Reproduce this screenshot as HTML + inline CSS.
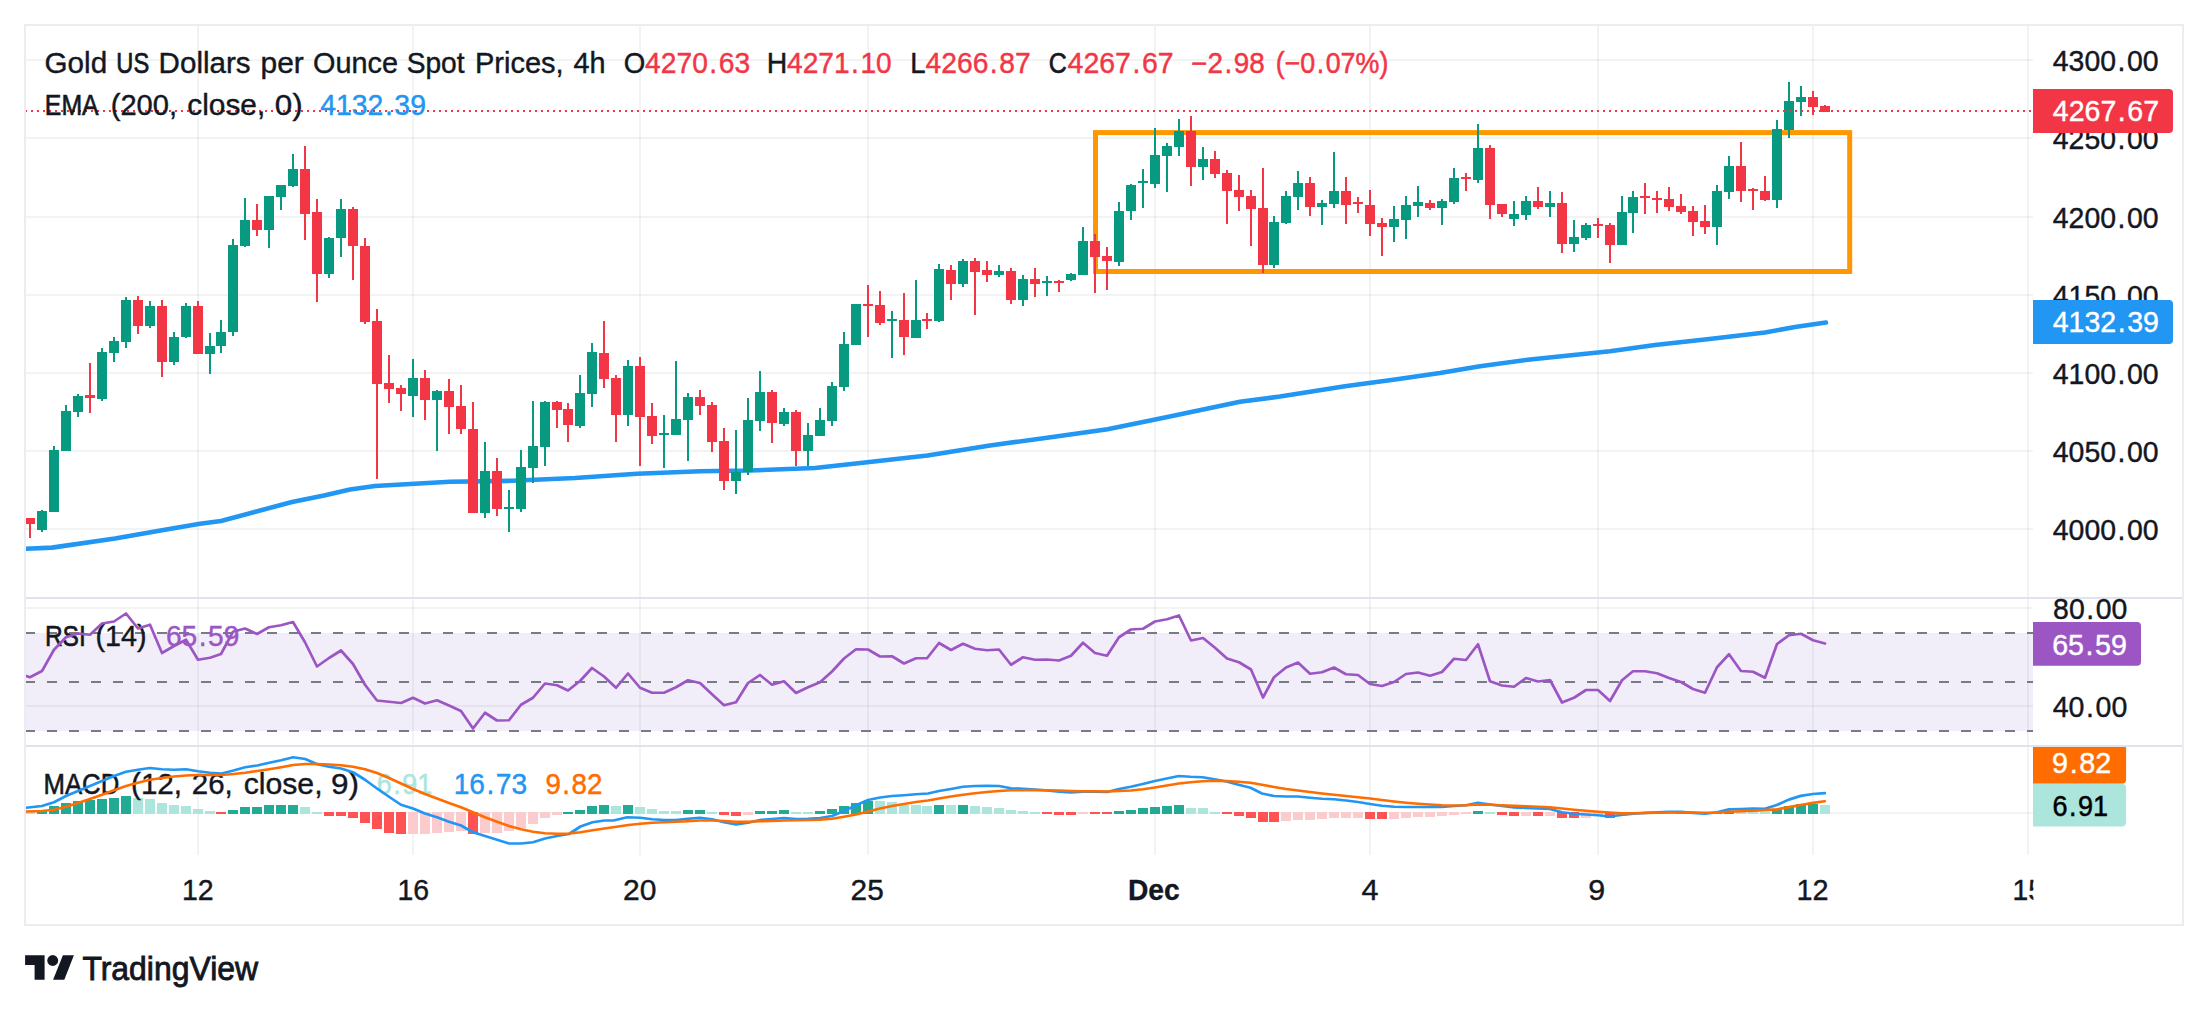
<!DOCTYPE html>
<html><head><meta charset="utf-8"><title>Gold chart</title>
<style>html,body{margin:0;padding:0;background:#fff;overflow:hidden;font-family:"Liberation Sans",sans-serif}svg{display:block}</style></head>
<body>
<svg width="2208" height="1013" viewBox="0 0 2208 1013" font-family="'Liberation Sans', sans-serif">
<defs>
<clipPath id="plot"><rect x="26" y="26" width="2007" height="830"/></clipPath>
<clipPath id="tclip"><rect x="0" y="860" width="2033.4" height="60"/></clipPath>
<clipPath id="lclip"><rect x="2000" y="747" width="200" height="100"/></clipPath>
</defs>
<rect width="2208" height="1013" fill="#fff"/>
<g fill="rgba(42,46,57,0.06)" shape-rendering="crispEdges">
<rect x="197" y="26" width="2" height="828.5"/>
<rect x="412" y="26" width="2" height="828.5"/>
<rect x="639" y="26" width="2" height="828.5"/>
<rect x="867" y="26" width="2" height="828.5"/>
<rect x="1154" y="26" width="2" height="828.5"/>
<rect x="1369" y="26" width="2" height="828.5"/>
<rect x="1597" y="26" width="2" height="828.5"/>
<rect x="1812" y="26" width="2" height="828.5"/>
<rect x="2027" y="26" width="2" height="828.5"/>
<rect x="26" y="59" width="2007" height="2"/>
<rect x="26" y="137" width="2007" height="2"/>
<rect x="26" y="216" width="2007" height="2"/>
<rect x="26" y="294" width="2007" height="2"/>
<rect x="26" y="372" width="2007" height="2"/>
<rect x="26" y="450" width="2007" height="2"/>
<rect x="26" y="528" width="2007" height="2"/>
<rect x="26" y="607" width="2007" height="2"/>
<rect x="26" y="705" width="2007" height="2"/>
<rect x="26" y="812" width="2007" height="2"/>
</g>
<rect x="26" y="633" width="2007" height="98" fill="rgba(126,87,194,0.1)" shape-rendering="crispEdges"/>
<g stroke="#787b86" stroke-width="2" stroke-dasharray="10 12" shape-rendering="crispEdges" clip-path="url(#plot)">
<line x1="25" y1="633" x2="2033" y2="633"/>
<line x1="25" y1="682" x2="2033" y2="682"/>
<line x1="25" y1="731" x2="2033" y2="731"/>
</g>
<g fill="#e0e3eb" shape-rendering="crispEdges"><rect x="26" y="597" width="2156" height="2"/><rect x="26" y="745" width="2156" height="2"/></g>
<rect x="25" y="25" width="2158" height="900" fill="none" stroke="#ecedf2" stroke-width="2" shape-rendering="crispEdges"/>
<g clip-path="url(#plot)">
<rect x="1095.5" y="132.6" width="754.2" height="138.9" fill="none" stroke="#ff9800" stroke-width="5"/>
<polyline points="25.0,548.8 52.0,547.6 115.0,538.5 162.0,530.2 200.0,523.8 221.0,521.0 292.0,502.0 324.0,495.5 350.0,489.5 375.0,486.0 450.0,481.8 512.0,480.8 575.0,478.0 637.0,473.8 700.0,471.2 750.0,470.5 815.0,468.0 865.0,462.5 927.5,455.5 990.0,445.5 1052.5,437.0 1107.5,429.2 1165.0,417.5 1240.0,401.8 1280.0,396.5 1345.0,386.2 1395.0,379.5 1440.0,373.0 1480.0,366.2 1530.0,359.5 1610.0,351.2 1655.0,345.0 1705.0,339.5 1765.0,332.5 1795.0,327.0 1826.0,322.5" fill="none" stroke="#2196f3" stroke-width="4.6" stroke-linejoin="round" stroke-linecap="round"/>
<g fill="#089981" shape-rendering="crispEdges"><rect x="41" y="510" width="2" height="22"/><rect x="37" y="511" width="10" height="19"/><rect x="53" y="446" width="2" height="66"/><rect x="49" y="450" width="10" height="62"/><rect x="65" y="405" width="2" height="46"/><rect x="61" y="411" width="10" height="40"/><rect x="77" y="394" width="2" height="23"/><rect x="73" y="396" width="10" height="16"/><rect x="101" y="348" width="2" height="53"/><rect x="97" y="352" width="10" height="47"/><rect x="113" y="337" width="2" height="25"/><rect x="109" y="341" width="10" height="12"/><rect x="125" y="297" width="2" height="51"/><rect x="121" y="300" width="10" height="42"/><rect x="149" y="301" width="2" height="27"/><rect x="145" y="306" width="10" height="20"/><rect x="173" y="332" width="2" height="33"/><rect x="169" y="337" width="10" height="25"/><rect x="185" y="303" width="2" height="35"/><rect x="181" y="306" width="10" height="31"/><rect x="209" y="333" width="2" height="41"/><rect x="205" y="346" width="10" height="8"/><rect x="220" y="320" width="2" height="33"/><rect x="216" y="332" width="10" height="14"/><rect x="232" y="239" width="2" height="97"/><rect x="228" y="245" width="10" height="87"/><rect x="244" y="198" width="2" height="49"/><rect x="240" y="220" width="10" height="26"/><rect x="268" y="196" width="2" height="52"/><rect x="264" y="196" width="10" height="34"/><rect x="280" y="185" width="2" height="25"/><rect x="276" y="185" width="10" height="12"/><rect x="292" y="154" width="2" height="33"/><rect x="288" y="169" width="10" height="17"/><rect x="328" y="237" width="2" height="41"/><rect x="324" y="238" width="10" height="36"/><rect x="340" y="199" width="2" height="58"/><rect x="336" y="209" width="10" height="29"/><rect x="412" y="359" width="2" height="58"/><rect x="408" y="378" width="10" height="18"/><rect x="436" y="390" width="2" height="61"/><rect x="432" y="391" width="10" height="9"/><rect x="484" y="442" width="2" height="76"/><rect x="480" y="471" width="10" height="42"/><rect x="508" y="490" width="2" height="42"/><rect x="504" y="507" width="10" height="2"/><rect x="520" y="450" width="2" height="62"/><rect x="516" y="467" width="10" height="42"/><rect x="532" y="401" width="2" height="82"/><rect x="528" y="446" width="10" height="22"/><rect x="544" y="401" width="2" height="65"/><rect x="540" y="402" width="10" height="45"/><rect x="579" y="375" width="2" height="53"/><rect x="575" y="393" width="10" height="33"/><rect x="591" y="343" width="2" height="64"/><rect x="587" y="352" width="10" height="42"/><rect x="627" y="360" width="2" height="66"/><rect x="623" y="366" width="10" height="49"/><rect x="663" y="415" width="2" height="53"/><rect x="659" y="433" width="10" height="2"/><rect x="675" y="361" width="2" height="74"/><rect x="671" y="419" width="10" height="16"/><rect x="687" y="393" width="2" height="68"/><rect x="683" y="397" width="10" height="23"/><rect x="735" y="430" width="2" height="64"/><rect x="731" y="472" width="10" height="9"/><rect x="747" y="398" width="2" height="77"/><rect x="743" y="420" width="10" height="52"/><rect x="759" y="371" width="2" height="60"/><rect x="755" y="392" width="10" height="29"/><rect x="783" y="408" width="2" height="18"/><rect x="779" y="412" width="10" height="12"/><rect x="807" y="423" width="2" height="43"/><rect x="803" y="435" width="10" height="16"/><rect x="819" y="408" width="2" height="28"/><rect x="815" y="420" width="10" height="16"/><rect x="831" y="382" width="2" height="44"/><rect x="827" y="386" width="10" height="35"/><rect x="843" y="332" width="2" height="59"/><rect x="839" y="344" width="10" height="43"/><rect x="851" y="304" width="10" height="41"/><rect x="891" y="311" width="2" height="47"/><rect x="887" y="319" width="10" height="2"/><rect x="915" y="280" width="2" height="58"/><rect x="911" y="320" width="10" height="18"/><rect x="938" y="264" width="2" height="58"/><rect x="934" y="269" width="10" height="52"/><rect x="962" y="259" width="2" height="28"/><rect x="958" y="261" width="10" height="23"/><rect x="998" y="265" width="2" height="12"/><rect x="994" y="271" width="10" height="4"/><rect x="1022" y="275" width="2" height="31"/><rect x="1018" y="279" width="10" height="21"/><rect x="1046" y="276" width="2" height="20"/><rect x="1042" y="281" width="10" height="2"/><rect x="1070" y="273" width="2" height="8"/><rect x="1066" y="274" width="10" height="6"/><rect x="1082" y="227" width="2" height="48"/><rect x="1078" y="241" width="10" height="34"/><rect x="1118" y="202" width="2" height="64"/><rect x="1114" y="211" width="10" height="51"/><rect x="1130" y="184" width="2" height="36"/><rect x="1126" y="185" width="10" height="26"/><rect x="1142" y="169" width="2" height="39"/><rect x="1138" y="181" width="10" height="2"/><rect x="1154" y="128" width="2" height="60"/><rect x="1150" y="155" width="10" height="29"/><rect x="1166" y="143" width="2" height="49"/><rect x="1162" y="146" width="10" height="10"/><rect x="1178" y="119" width="2" height="37"/><rect x="1174" y="131" width="10" height="16"/><rect x="1202" y="147" width="2" height="33"/><rect x="1198" y="159" width="10" height="8"/><rect x="1273" y="216" width="2" height="52"/><rect x="1269" y="222" width="10" height="43"/><rect x="1285" y="191" width="2" height="33"/><rect x="1281" y="196" width="10" height="27"/><rect x="1297" y="171" width="2" height="39"/><rect x="1293" y="183" width="10" height="14"/><rect x="1321" y="200" width="2" height="25"/><rect x="1317" y="203" width="10" height="4"/><rect x="1333" y="152" width="2" height="56"/><rect x="1329" y="191" width="10" height="13"/><rect x="1393" y="206" width="2" height="36"/><rect x="1389" y="219" width="10" height="8"/><rect x="1405" y="196" width="2" height="43"/><rect x="1401" y="205" width="10" height="15"/><rect x="1417" y="186" width="2" height="31"/><rect x="1413" y="202" width="10" height="4"/><rect x="1441" y="199" width="2" height="26"/><rect x="1437" y="201" width="10" height="7"/><rect x="1453" y="168" width="2" height="36"/><rect x="1449" y="178" width="10" height="24"/><rect x="1477" y="124" width="2" height="59"/><rect x="1473" y="148" width="10" height="32"/><rect x="1513" y="201" width="2" height="25"/><rect x="1509" y="214" width="10" height="5"/><rect x="1525" y="196" width="2" height="24"/><rect x="1521" y="201" width="10" height="14"/><rect x="1549" y="191" width="2" height="26"/><rect x="1545" y="203" width="10" height="4"/><rect x="1573" y="220" width="2" height="32"/><rect x="1569" y="237" width="10" height="7"/><rect x="1585" y="223" width="2" height="17"/><rect x="1581" y="225" width="10" height="13"/><rect x="1621" y="196" width="2" height="49"/><rect x="1617" y="212" width="10" height="33"/><rect x="1632" y="191" width="2" height="42"/><rect x="1628" y="197" width="10" height="16"/><rect x="1716" y="185" width="2" height="60"/><rect x="1712" y="191" width="10" height="36"/><rect x="1728" y="156" width="2" height="43"/><rect x="1724" y="166" width="10" height="26"/><rect x="1776" y="120" width="2" height="88"/><rect x="1772" y="129" width="10" height="71"/><rect x="1788" y="82" width="2" height="56"/><rect x="1784" y="101" width="10" height="29"/><rect x="1800" y="86" width="2" height="30"/><rect x="1796" y="97" width="10" height="5"/></g>
<g fill="#f23645" shape-rendering="crispEdges"><rect x="29" y="518" width="2" height="20"/><rect x="25" y="518" width="10" height="6"/><rect x="89" y="363" width="2" height="50"/><rect x="85" y="395" width="10" height="3"/><rect x="137" y="296" width="2" height="38"/><rect x="133" y="300" width="10" height="26"/><rect x="161" y="300" width="2" height="77"/><rect x="157" y="306" width="10" height="56"/><rect x="197" y="301" width="2" height="53"/><rect x="193" y="306" width="10" height="48"/><rect x="256" y="204" width="2" height="32"/><rect x="252" y="220" width="10" height="10"/><rect x="304" y="146" width="2" height="94"/><rect x="300" y="169" width="10" height="45"/><rect x="316" y="199" width="2" height="103"/><rect x="312" y="212" width="10" height="62"/><rect x="352" y="207" width="2" height="73"/><rect x="348" y="209" width="10" height="37"/><rect x="364" y="238" width="2" height="86"/><rect x="360" y="246" width="10" height="76"/><rect x="376" y="309" width="2" height="170"/><rect x="372" y="321" width="10" height="63"/><rect x="388" y="355" width="2" height="48"/><rect x="384" y="383" width="10" height="6"/><rect x="400" y="385" width="2" height="26"/><rect x="396" y="388" width="10" height="6"/><rect x="424" y="370" width="2" height="50"/><rect x="420" y="378" width="10" height="22"/><rect x="448" y="379" width="2" height="55"/><rect x="444" y="391" width="10" height="16"/><rect x="460" y="385" width="2" height="49"/><rect x="456" y="406" width="10" height="23"/><rect x="472" y="402" width="2" height="111"/><rect x="468" y="429" width="10" height="84"/><rect x="496" y="458" width="2" height="58"/><rect x="492" y="471" width="10" height="38"/><rect x="556" y="401" width="2" height="27"/><rect x="552" y="402" width="10" height="8"/><rect x="567" y="403" width="2" height="39"/><rect x="563" y="409" width="10" height="16"/><rect x="603" y="321" width="2" height="67"/><rect x="599" y="353" width="10" height="26"/><rect x="615" y="375" width="2" height="67"/><rect x="611" y="378" width="10" height="37"/><rect x="639" y="357" width="2" height="109"/><rect x="635" y="366" width="10" height="51"/><rect x="651" y="403" width="2" height="41"/><rect x="647" y="416" width="10" height="20"/><rect x="699" y="390" width="2" height="25"/><rect x="695" y="397" width="10" height="9"/><rect x="711" y="402" width="2" height="50"/><rect x="707" y="405" width="10" height="37"/><rect x="723" y="428" width="2" height="62"/><rect x="719" y="441" width="10" height="40"/><rect x="771" y="390" width="2" height="53"/><rect x="767" y="392" width="10" height="31"/><rect x="795" y="410" width="2" height="56"/><rect x="791" y="412" width="10" height="39"/><rect x="867" y="285" width="2" height="52"/><rect x="863" y="304" width="10" height="2"/><rect x="879" y="291" width="2" height="34"/><rect x="875" y="305" width="10" height="18"/><rect x="903" y="293" width="2" height="62"/><rect x="899" y="320" width="10" height="17"/><rect x="926" y="313" width="2" height="16"/><rect x="922" y="319" width="10" height="2"/><rect x="950" y="265" width="2" height="35"/><rect x="946" y="270" width="10" height="14"/><rect x="974" y="258" width="2" height="57"/><rect x="970" y="261" width="10" height="11"/><rect x="986" y="261" width="2" height="21"/><rect x="982" y="270" width="10" height="5"/><rect x="1010" y="268" width="2" height="36"/><rect x="1006" y="271" width="10" height="29"/><rect x="1034" y="268" width="2" height="29"/><rect x="1030" y="279" width="10" height="5"/><rect x="1058" y="280" width="2" height="12"/><rect x="1054" y="281" width="10" height="2"/><rect x="1094" y="234" width="2" height="59"/><rect x="1090" y="241" width="10" height="16"/><rect x="1106" y="247" width="2" height="43"/><rect x="1102" y="256" width="10" height="5"/><rect x="1190" y="116" width="2" height="70"/><rect x="1186" y="131" width="10" height="36"/><rect x="1214" y="151" width="2" height="27"/><rect x="1210" y="159" width="10" height="15"/><rect x="1226" y="170" width="2" height="54"/><rect x="1222" y="173" width="10" height="18"/><rect x="1238" y="175" width="2" height="36"/><rect x="1234" y="190" width="10" height="7"/><rect x="1250" y="190" width="2" height="56"/><rect x="1246" y="196" width="10" height="13"/><rect x="1262" y="168" width="2" height="105"/><rect x="1258" y="208" width="10" height="57"/><rect x="1309" y="177" width="2" height="39"/><rect x="1305" y="183" width="10" height="24"/><rect x="1345" y="177" width="2" height="47"/><rect x="1341" y="191" width="10" height="14"/><rect x="1357" y="197" width="2" height="16"/><rect x="1353" y="202" width="10" height="2"/><rect x="1369" y="190" width="2" height="46"/><rect x="1365" y="205" width="10" height="19"/><rect x="1381" y="218" width="2" height="38"/><rect x="1377" y="223" width="10" height="4"/><rect x="1429" y="200" width="2" height="10"/><rect x="1425" y="203" width="10" height="5"/><rect x="1465" y="173" width="2" height="18"/><rect x="1461" y="177" width="10" height="2"/><rect x="1489" y="145" width="2" height="74"/><rect x="1485" y="148" width="10" height="57"/><rect x="1501" y="204" width="2" height="13"/><rect x="1497" y="204" width="10" height="10"/><rect x="1537" y="187" width="2" height="22"/><rect x="1533" y="201" width="10" height="6"/><rect x="1561" y="192" width="2" height="61"/><rect x="1557" y="203" width="10" height="41"/><rect x="1597" y="218" width="2" height="20"/><rect x="1593" y="224" width="10" height="2"/><rect x="1609" y="223" width="2" height="40"/><rect x="1605" y="225" width="10" height="20"/><rect x="1644" y="183" width="2" height="31"/><rect x="1640" y="196" width="10" height="2"/><rect x="1656" y="191" width="2" height="22"/><rect x="1652" y="198" width="10" height="2"/><rect x="1668" y="187" width="2" height="24"/><rect x="1664" y="199" width="10" height="8"/><rect x="1680" y="194" width="2" height="20"/><rect x="1676" y="206" width="10" height="6"/><rect x="1692" y="206" width="2" height="30"/><rect x="1688" y="211" width="10" height="11"/><rect x="1704" y="205" width="2" height="29"/><rect x="1700" y="221" width="10" height="6"/><rect x="1740" y="142" width="2" height="60"/><rect x="1736" y="166" width="10" height="25"/><rect x="1752" y="188" width="2" height="22"/><rect x="1748" y="189" width="10" height="2"/><rect x="1764" y="176" width="2" height="25"/><rect x="1760" y="191" width="10" height="9"/><rect x="1812" y="91" width="2" height="24"/><rect x="1808" y="97" width="10" height="10"/><rect x="1824" y="105" width="2" height="7"/><rect x="1820" y="106" width="10" height="6"/></g>
<line x1="25" y1="111" x2="2033" y2="111" stroke="#f23645" stroke-width="2" stroke-dasharray="2 4" shape-rendering="crispEdges"/>
<g fill="#22ab94" shape-rendering="crispEdges"><rect x="37" y="811" width="10" height="3"/><rect x="49" y="806" width="10" height="8"/><rect x="61" y="803" width="10" height="11"/><rect x="73" y="801" width="10" height="13"/><rect x="85" y="800" width="10" height="14"/><rect x="97" y="799" width="10" height="15"/><rect x="109" y="798" width="10" height="16"/><rect x="121" y="796" width="10" height="18"/><rect x="228" y="810" width="10" height="4"/><rect x="240" y="807" width="10" height="7"/><rect x="252" y="807" width="10" height="7"/><rect x="264" y="805" width="10" height="9"/><rect x="276" y="805" width="10" height="9"/><rect x="288" y="805" width="10" height="9"/><rect x="563" y="812" width="10" height="2"/><rect x="575" y="810" width="10" height="4"/><rect x="587" y="806" width="10" height="8"/><rect x="599" y="805" width="10" height="9"/><rect x="623" y="805" width="10" height="9"/><rect x="683" y="810" width="10" height="4"/><rect x="695" y="810" width="10" height="4"/><rect x="755" y="811" width="10" height="3"/><rect x="767" y="811" width="10" height="3"/><rect x="779" y="810" width="10" height="4"/><rect x="815" y="811" width="10" height="3"/><rect x="827" y="809" width="10" height="5"/><rect x="839" y="806" width="10" height="8"/><rect x="851" y="803" width="10" height="11"/><rect x="863" y="801" width="10" height="13"/><rect x="934" y="805" width="10" height="9"/><rect x="958" y="805" width="10" height="9"/><rect x="1114" y="811" width="10" height="3"/><rect x="1126" y="810" width="10" height="4"/><rect x="1138" y="808" width="10" height="6"/><rect x="1150" y="807" width="10" height="7"/><rect x="1162" y="806" width="10" height="8"/><rect x="1174" y="805" width="10" height="9"/><rect x="1473" y="811" width="10" height="3"/><rect x="1640" y="812" width="10" height="2"/><rect x="1652" y="812" width="10" height="2"/><rect x="1712" y="812" width="10" height="2"/><rect x="1724" y="811" width="10" height="3"/><rect x="1772" y="809" width="10" height="5"/><rect x="1784" y="806" width="10" height="8"/><rect x="1796" y="804" width="10" height="10"/><rect x="1808" y="804" width="10" height="10"/></g>
<g fill="#ace5dc" shape-rendering="crispEdges"><rect x="25" y="812" width="10" height="2"/><rect x="133" y="798" width="10" height="16"/><rect x="145" y="799" width="10" height="15"/><rect x="157" y="803" width="10" height="11"/><rect x="169" y="805" width="10" height="9"/><rect x="181" y="806" width="10" height="8"/><rect x="193" y="809" width="10" height="5"/><rect x="205" y="811" width="10" height="3"/><rect x="300" y="807" width="10" height="7"/><rect x="312" y="812" width="10" height="2"/><rect x="611" y="806" width="10" height="8"/><rect x="635" y="807" width="10" height="7"/><rect x="647" y="809" width="10" height="5"/><rect x="659" y="811" width="10" height="3"/><rect x="671" y="811" width="10" height="3"/><rect x="707" y="812" width="10" height="2"/><rect x="791" y="812" width="10" height="2"/><rect x="803" y="812" width="10" height="2"/><rect x="875" y="801" width="10" height="13"/><rect x="887" y="802" width="10" height="12"/><rect x="899" y="805" width="10" height="9"/><rect x="911" y="805" width="10" height="9"/><rect x="922" y="806" width="10" height="8"/><rect x="946" y="805" width="10" height="9"/><rect x="970" y="806" width="10" height="8"/><rect x="982" y="807" width="10" height="7"/><rect x="994" y="808" width="10" height="6"/><rect x="1006" y="810" width="10" height="4"/><rect x="1018" y="811" width="10" height="3"/><rect x="1030" y="812" width="10" height="2"/><rect x="1186" y="808" width="10" height="6"/><rect x="1198" y="808" width="10" height="6"/><rect x="1210" y="812" width="10" height="2"/><rect x="1485" y="812" width="10" height="2"/><rect x="1664" y="812" width="10" height="2"/><rect x="1736" y="811" width="10" height="3"/><rect x="1748" y="812" width="10" height="2"/><rect x="1760" y="812" width="10" height="2"/><rect x="1820" y="805" width="10" height="9"/></g>
<g fill="#ff5252" shape-rendering="crispEdges"><rect x="216" y="812" width="10" height="2"/><rect x="324" y="812" width="10" height="4"/><rect x="336" y="812" width="10" height="4"/><rect x="348" y="812" width="10" height="6"/><rect x="360" y="812" width="10" height="11"/><rect x="372" y="812" width="10" height="17"/><rect x="384" y="812" width="10" height="21"/><rect x="396" y="812" width="10" height="22"/><rect x="468" y="812" width="10" height="22"/><rect x="719" y="812" width="10" height="3"/><rect x="731" y="812" width="10" height="4"/><rect x="1042" y="812" width="10" height="2"/><rect x="1054" y="812" width="10" height="3"/><rect x="1066" y="812" width="10" height="3"/><rect x="1090" y="812" width="10" height="2"/><rect x="1102" y="812" width="10" height="2"/><rect x="1222" y="812" width="10" height="2"/><rect x="1234" y="812" width="10" height="4"/><rect x="1246" y="812" width="10" height="6"/><rect x="1258" y="812" width="10" height="10"/><rect x="1269" y="812" width="10" height="10"/><rect x="1365" y="812" width="10" height="7"/><rect x="1377" y="812" width="10" height="7"/><rect x="1497" y="812" width="10" height="3"/><rect x="1509" y="812" width="10" height="4"/><rect x="1533" y="812" width="10" height="4"/><rect x="1557" y="812" width="10" height="6"/><rect x="1569" y="812" width="10" height="6"/><rect x="1605" y="812" width="10" height="6"/><rect x="1676" y="812" width="10" height="2"/><rect x="1688" y="812" width="10" height="2"/><rect x="1700" y="812" width="10" height="2"/></g>
<g fill="#fccbcd" shape-rendering="crispEdges"><rect x="408" y="812" width="10" height="22"/><rect x="420" y="812" width="10" height="22"/><rect x="432" y="812" width="10" height="21"/><rect x="444" y="812" width="10" height="20"/><rect x="456" y="812" width="10" height="19"/><rect x="480" y="812" width="10" height="21"/><rect x="492" y="812" width="10" height="21"/><rect x="504" y="812" width="10" height="19"/><rect x="516" y="812" width="10" height="16"/><rect x="528" y="812" width="10" height="12"/><rect x="540" y="812" width="10" height="6"/><rect x="552" y="812" width="10" height="3"/><rect x="743" y="812" width="10" height="3"/><rect x="1078" y="812" width="10" height="2"/><rect x="1281" y="812" width="10" height="9"/><rect x="1293" y="812" width="10" height="8"/><rect x="1305" y="812" width="10" height="8"/><rect x="1317" y="812" width="10" height="7"/><rect x="1329" y="812" width="10" height="6"/><rect x="1341" y="812" width="10" height="6"/><rect x="1353" y="812" width="10" height="6"/><rect x="1389" y="812" width="10" height="7"/><rect x="1401" y="812" width="10" height="6"/><rect x="1413" y="812" width="10" height="5"/><rect x="1425" y="812" width="10" height="5"/><rect x="1437" y="812" width="10" height="4"/><rect x="1449" y="812" width="10" height="3"/><rect x="1461" y="812" width="10" height="2"/><rect x="1521" y="812" width="10" height="4"/><rect x="1545" y="812" width="10" height="4"/><rect x="1581" y="812" width="10" height="6"/><rect x="1593" y="812" width="10" height="4"/><rect x="1617" y="812" width="10" height="3"/><rect x="1628" y="812" width="10" height="2"/></g>
</g>
<text transform="translate(44.51 72.50) scale(1.0371 1)" font-size="28.6" fill="#131722" stroke="#131722" stroke-width="0.40" vector-effect="non-scaling-stroke">Gold</text>
<text transform="translate(116.32 72.50) scale(0.8274 1)" font-size="28.6" fill="#131722" stroke="#131722" stroke-width="0.66" vector-effect="non-scaling-stroke">US</text>
<text transform="translate(158.59 72.50) scale(1.0341 1)" font-size="28.6" fill="#131722" stroke="#131722" stroke-width="0.40" vector-effect="non-scaling-stroke">Dollars</text>
<text transform="translate(260.53 72.50) scale(1.0455 1)" font-size="28.6" fill="#131722" stroke="#131722" stroke-width="0.40" vector-effect="non-scaling-stroke">per</text>
<text transform="translate(313.05 72.50) scale(1.0078 1)" font-size="28.6" fill="#131722" stroke="#131722" stroke-width="0.40" vector-effect="non-scaling-stroke">Ounce</text>
<text transform="translate(406.72 72.50) scale(0.9838 1)" font-size="28.6" fill="#131722" stroke="#131722" stroke-width="0.42" vector-effect="non-scaling-stroke">Spot</text>
<text transform="translate(475.03 72.50) scale(1.0140 1)" font-size="28.6" fill="#131722" stroke="#131722" stroke-width="0.40" vector-effect="non-scaling-stroke">Prices,</text>
<text transform="translate(573.55 72.50) scale(1.0081 1)" font-size="28.6" fill="#131722" stroke="#131722" stroke-width="0.40" vector-effect="non-scaling-stroke">4h</text>
<text transform="translate(623.70 72.50) scale(0.9663 1)" font-size="28.6" fill="#131722" stroke="#131722" stroke-width="0.45" vector-effect="non-scaling-stroke">O</text>
<text transform="translate(645.06 72.50) scale(0.9869 1)" font-size="28.6" fill="#f23645" stroke="#f23645" stroke-width="0.42" vector-effect="non-scaling-stroke">4270<tspan dx="1.55">.</tspan><tspan dx="1.55">63</tspan></text>
<text transform="translate(766.78 72.50) scale(0.9946 1)" font-size="28.6" fill="#131722" stroke="#131722" stroke-width="0.41" vector-effect="non-scaling-stroke">H</text>
<text transform="translate(787.06 72.50) scale(0.9827 1)" font-size="28.6" fill="#f23645" stroke="#f23645" stroke-width="0.43" vector-effect="non-scaling-stroke">4271<tspan dx="1.55">.</tspan><tspan dx="1.55">10</tspan></text>
<text transform="translate(910.34 72.50) scale(0.9646 1)" font-size="28.6" fill="#131722" stroke="#131722" stroke-width="0.45" vector-effect="non-scaling-stroke">L</text>
<text transform="translate(925.56 72.50) scale(0.9869 1)" font-size="28.6" fill="#f23645" stroke="#f23645" stroke-width="0.42" vector-effect="non-scaling-stroke">4266<tspan dx="1.55">.</tspan><tspan dx="1.55">87</tspan></text>
<text transform="translate(1048.83 72.50) scale(0.8733 1)" font-size="28.6" fill="#131722" stroke="#131722" stroke-width="0.59" vector-effect="non-scaling-stroke">C</text>
<text transform="translate(1067.55 72.50) scale(0.9964 1)" font-size="28.6" fill="#f23645" stroke="#f23645" stroke-width="0.41" vector-effect="non-scaling-stroke">4267<tspan dx="1.55">.</tspan><tspan dx="1.55">67</tspan></text>
<text transform="translate(1191.19 72.50) scale(0.9744 1)" font-size="28.6" fill="#f23645" stroke="#f23645" stroke-width="0.44" vector-effect="non-scaling-stroke">−2<tspan dx="1.55">.</tspan><tspan dx="1.55">98</tspan></text>
<text transform="translate(1275.74 72.50) scale(0.9392 1)" font-size="28.6" fill="#f23645" stroke="#f23645" stroke-width="0.49" vector-effect="non-scaling-stroke">(−0<tspan dx="1.55">.</tspan><tspan dx="1.55">07%)</tspan></text>
<text transform="translate(44.86 114.50) scale(0.8684 1)" font-size="28.6" fill="#131722" stroke="#131722" stroke-width="0.60" vector-effect="non-scaling-stroke">EMA</text>
<text transform="translate(110.74 114.50) scale(1.0177 1)" font-size="28.6" fill="#131722" stroke="#131722" stroke-width="0.40" vector-effect="non-scaling-stroke">(200,</text>
<text transform="translate(187.27 114.50) scale(1.0435 1)" font-size="28.6" fill="#131722" stroke="#131722" stroke-width="0.40" vector-effect="non-scaling-stroke">close,</text>
<text transform="translate(274.72 114.50) scale(1.0973 1)" font-size="28.6" fill="#131722" stroke="#131722" stroke-width="0.40" vector-effect="non-scaling-stroke">0)</text>
<text transform="translate(320.26 114.50) scale(0.9926 1)" font-size="28.6" fill="#2196f3" stroke="#2196f3" stroke-width="0.41" vector-effect="non-scaling-stroke">4132<tspan dx="1.55">.</tspan><tspan dx="1.55">39</tspan></text>
<text transform="translate(44.88 646.30) scale(0.8586 1)" font-size="28.6" fill="#131722" stroke="#131722" stroke-width="0.61" vector-effect="non-scaling-stroke">RSI</text>
<text transform="translate(95.55 646.30) scale(1.0034 1)" font-size="28.6" fill="#131722" stroke="#131722" stroke-width="0.40" vector-effect="non-scaling-stroke">(14)</text>
<text transform="translate(165.88 646.30) scale(0.9852 1)" font-size="28.6" fill="#9c56c4" stroke="#9c56c4" stroke-width="0.42" vector-effect="non-scaling-stroke">65<tspan dx="1.55">.</tspan><tspan dx="1.55">59</tspan></text>
<text transform="translate(43.49 793.90) scale(0.9002 1)" font-size="28.6" fill="#131722" stroke="#131722" stroke-width="0.55" vector-effect="non-scaling-stroke">MACD</text>
<text transform="translate(131.01 793.90) scale(1.0370 1)" font-size="28.6" fill="#131722" stroke="#131722" stroke-width="0.40" vector-effect="non-scaling-stroke">(12,</text>
<text transform="translate(191.82 793.90) scale(1.0309 1)" font-size="28.6" fill="#131722" stroke="#131722" stroke-width="0.40" vector-effect="non-scaling-stroke">26,</text>
<text transform="translate(243.66 793.90) scale(1.0561 1)" font-size="28.6" fill="#131722" stroke="#131722" stroke-width="0.40" vector-effect="non-scaling-stroke">close,</text>
<text transform="translate(330.92 793.90) scale(1.1013 1)" font-size="28.6" fill="#131722" stroke="#131722" stroke-width="0.40" vector-effect="non-scaling-stroke">9)</text>
<text transform="translate(376.73 793.90) scale(0.9455 1)" font-size="28.6" fill="#ace5dc" stroke="#ace5dc" stroke-width="0.48" vector-effect="non-scaling-stroke">6<tspan dx="1.55">.</tspan><tspan dx="1.55">91</tspan></text>
<text transform="translate(453.64 793.90) scale(0.9843 1)" font-size="28.6" fill="#2196f3" stroke="#2196f3" stroke-width="0.42" vector-effect="non-scaling-stroke">16<tspan dx="1.55">.</tspan><tspan dx="1.55">73</tspan></text>
<text transform="translate(545.40 793.90) scale(0.9686 1)" font-size="28.6" fill="#ff6d00" stroke="#ff6d00" stroke-width="0.45" vector-effect="non-scaling-stroke">9<tspan dx="1.55">.</tspan><tspan dx="1.55">82</tspan></text>
<g clip-path="url(#plot)">
<polyline points="18,673.5 30,677.25 42,671.00 54,649.75 66,637.25 78,633.50 90,634.75 102,623.50 114,621.50 126,613.50 138,628.50 150,624.75 162,653.00 174,646.00 186,639.75 198,659.75 210,657.75 221,654.00 233,631.75 245,628.50 257,634.00 269,627.25 281,625.25 293,622.00 305,642.25 317,666.50 329,658.00 341,650.50 353,664.00 365,684.75 377,700.50 389,701.75 401,703.00 413,697.75 425,703.50 437,700.25 449,705.50 461,711.00 473,728.50 485,712.75 497,720.50 509,720.25 521,704.75 533,697.75 545,683.50 557,685.25 568,690.50 580,681.00 592,668.00 604,676.50 616,687.75 628,673.50 640,687.75 652,692.75 664,692.75 676,687.25 688,680.25 700,683.00 712,694.25 724,705.25 736,702.25 748,683.00 760,675.00 772,684.75 784,681.25 796,693.00 808,687.25 820,682.25 832,671.50 844,658.50 856,649.25 868,649.50 880,656.50 892,656.25 904,663.50 916,658.25 927,658.25 939,643.00 951,650.00 963,643.75 975,648.75 987,650.25 999,649.50 1011,664.75 1023,657.25 1035,659.75 1047,659.50 1059,660.50 1071,655.75 1083,642.75 1095,653.00 1107,655.75 1119,637.25 1131,629.50 1143,628.75 1155,621.50 1167,619.25 1179,615.50 1191,640.50 1203,638.00 1215,647.75 1227,658.50 1239,662.25 1251,669.50 1263,697.50 1274,677.25 1286,667.50 1298,662.50 1310,673.75 1322,672.25 1334,667.50 1346,674.25 1358,675.00 1370,684.00 1382,686.00 1394,682.00 1406,674.00 1418,672.50 1430,675.75 1442,672.00 1454,658.75 1466,660.00 1478,644.25 1490,681.25 1502,685.50 1514,686.75 1526,678.00 1538,681.50 1550,680.00 1562,702.50 1574,697.75 1586,690.00 1598,690.00 1610,701.00 1622,680.25 1633,671.25 1645,671.25 1657,673.25 1669,678.00 1681,682.00 1693,689.00 1705,692.75 1717,667.25 1729,654.25 1741,671.00 1753,671.75 1765,677.75 1777,644.00 1789,635.25 1801,633.75 1813,640.25 1825,643.50" fill="none" stroke="#9c56c4" stroke-width="2.7" stroke-linejoin="round" stroke-linecap="round"/>
<polyline points="14,808.6 26.0,807.75 42.0,806.00 54.0,802.25 66.0,796.00 78.0,791.00 90.0,786.00 102.0,781.00 114.0,776.00 126.0,771.75 138.0,769.75 149.8,768.00 162.0,769.25 174.0,769.75 186.0,769.25 198.0,771.25 210.0,772.75 221.5,773.50 233.5,770.50 245.2,767.25 257.2,765.50 269.2,762.75 281.2,760.25 293.2,757.25 305.2,759.00 317.2,764.25 329.0,766.75 341.0,768.50 353.0,772.25 365.0,779.75 377.0,788.50 389.0,796.75 401.0,804.75 413.0,808.50 425.0,813.50 437.0,817.25 449.0,821.75 461.0,825.50 473.0,832.25 485.0,836.00 497.0,839.75 509.0,843.50 521.0,843.50 533.0,842.25 545.0,838.50 557.0,836.00 569.0,834.00 580.5,826.50 592.5,822.25 604.5,820.50 613.5,820.50 627.2,817.25 640.2,817.75 652.2,819.25 664.2,820.00 676.0,820.00 688.0,818.75 700.0,817.75 712.0,819.25 724.0,822.25 736.0,824.50 748.0,822.75 760.0,820.00 772.0,819.00 784.0,818.00 796.0,819.00 808.0,818.75 820.0,818.00 832.0,816.00 844.0,811.00 856.0,805.25 868.0,800.00 880.0,797.50 892.0,796.00 904.0,795.25 916.0,794.25 928.0,793.50 939.0,791.00 951.0,789.00 963.0,786.75 975.0,786.00 987.0,785.75 999.0,786.00 1011.0,788.25 1023.0,788.75 1035.0,789.50 1047.0,790.50 1059.0,791.75 1071.0,792.50 1083.0,791.75 1095.0,791.75 1107.0,792.00 1119.0,789.00 1130.8,786.75 1142.8,784.00 1154.8,781.00 1166.8,778.50 1178.8,776.00 1190.5,776.75 1202.5,777.25 1214.5,779.25 1226.5,781.50 1238.5,784.75 1250.5,787.75 1262.0,793.50 1274.0,796.00 1286.0,796.50 1298.0,796.50 1310.0,797.75 1322.0,798.75 1334.0,799.25 1346.0,800.50 1358.0,802.00 1370.0,804.00 1382.0,805.75 1394.0,806.75 1406.0,807.00 1418.0,807.00 1430.0,807.00 1442.0,807.00 1454.0,806.00 1466.0,805.25 1478.0,802.75 1490.0,804.50 1502.0,806.00 1514.0,807.50 1526.0,808.00 1538.0,808.50 1550.0,809.00 1562.0,812.25 1574.0,813.75 1586.0,814.50 1598.0,815.25 1609.4,816.50 1621.2,815.00 1633.2,813.75 1645.2,812.88 1657.2,812.25 1669.1,811.88 1681.1,811.88 1693.1,812.88 1705.0,813.75 1717.0,812.25 1729.0,809.38 1741.0,809.00 1752.9,808.50 1764.9,808.75 1776.9,805.00 1788.8,799.62 1800.8,795.88 1812.8,794.00 1824.8,793.12" fill="none" stroke="#2196f3" stroke-width="2.7" stroke-linejoin="round" stroke-linecap="round"/>
<polyline points="14,811.8 26.0,811.50 42.0,811.00 54.0,809.75 66.0,806.75 78.0,803.00 90.0,799.00 102.0,794.75 114.0,790.25 126.0,786.00 138.0,782.75 149.8,779.75 162.0,778.00 174.0,776.50 186.0,775.50 198.0,775.00 210.0,775.00 221.5,775.00 233.5,774.00 245.2,772.75 257.2,771.00 269.2,769.25 281.2,767.25 293.2,765.00 305.2,764.00 317.2,764.00 329.0,764.50 341.0,765.25 353.0,766.75 365.0,769.25 377.0,773.00 389.0,778.00 401.0,783.50 413.0,789.00 425.0,794.00 437.0,798.50 449.0,803.00 461.0,807.25 473.0,812.25 485.0,817.25 497.0,821.75 509.0,826.00 521.0,829.25 533.0,831.75 545.0,833.25 557.0,833.75 569.0,833.50 580.5,832.25 592.5,830.25 604.5,828.50 616.5,826.75 628.5,825.00 640.2,823.75 652.2,822.75 664.2,822.25 676.0,821.75 688.0,821.25 700.0,820.50 712.0,820.50 724.0,821.00 736.0,821.75 748.0,821.75 760.0,821.25 772.0,821.00 784.0,820.50 796.0,820.25 808.0,820.00 820.0,819.75 832.0,818.75 844.0,816.75 856.0,814.50 868.0,811.50 880.0,808.50 892.0,806.00 904.0,804.00 916.0,802.00 928.0,800.50 939.0,798.50 951.0,796.50 963.0,794.75 975.0,793.25 987.0,792.00 999.0,791.00 1011.0,790.25 1023.0,790.25 1035.0,790.00 1047.0,790.25 1059.0,790.50 1071.0,791.00 1083.0,791.25 1095.0,791.25 1107.0,791.50 1119.0,791.00 1130.8,790.50 1142.8,789.25 1154.8,787.50 1166.8,785.50 1178.8,783.50 1190.5,782.25 1202.5,781.25 1214.5,780.75 1226.5,781.00 1238.5,781.75 1250.5,782.75 1262.0,784.75 1274.0,787.00 1286.0,789.00 1298.0,790.50 1310.0,792.00 1322.0,793.50 1334.0,794.75 1346.0,796.00 1358.0,797.25 1370.0,798.50 1382.0,800.00 1394.0,801.50 1406.0,802.75 1418.0,803.75 1430.0,804.50 1442.0,805.25 1454.0,805.50 1466.0,805.25 1478.0,804.50 1490.0,804.75 1502.0,805.25 1514.0,805.75 1526.0,806.25 1538.0,806.75 1550.0,807.25 1562.0,808.50 1574.0,809.75 1586.0,810.75 1598.0,811.75 1609.4,812.50 1621.2,813.38 1633.2,813.25 1645.2,813.00 1657.2,812.75 1669.1,812.50 1681.1,812.38 1693.1,812.50 1705.0,812.75 1717.0,812.62 1729.0,811.75 1741.0,811.25 1752.9,810.62 1764.9,810.12 1776.9,809.38 1788.8,807.12 1800.8,805.00 1812.8,802.88 1824.8,801.25" fill="none" stroke="#ff6d00" stroke-width="2.7" stroke-linejoin="round" stroke-linecap="round"/>
</g>
<text transform="translate(2052.76 70.90) scale(0.9950 1)" font-size="28.6" fill="#131722" stroke="#131722" stroke-width="0.41" vector-effect="non-scaling-stroke">4300<tspan dx="1.55">.</tspan><tspan dx="1.55">00</tspan></text>
<text transform="translate(2052.76 149.10) scale(0.9950 1)" font-size="28.6" fill="#131722" stroke="#131722" stroke-width="0.41" vector-effect="non-scaling-stroke">4250<tspan dx="1.55">.</tspan><tspan dx="1.55">00</tspan></text>
<text transform="translate(2052.76 227.50) scale(0.9950 1)" font-size="28.6" fill="#131722" stroke="#131722" stroke-width="0.41" vector-effect="non-scaling-stroke">4200<tspan dx="1.55">.</tspan><tspan dx="1.55">00</tspan></text>
<text transform="translate(2052.76 305.60) scale(0.9950 1)" font-size="28.6" fill="#131722" stroke="#131722" stroke-width="0.41" vector-effect="non-scaling-stroke">4150<tspan dx="1.55">.</tspan><tspan dx="1.55">00</tspan></text>
<text transform="translate(2052.76 383.70) scale(0.9950 1)" font-size="28.6" fill="#131722" stroke="#131722" stroke-width="0.41" vector-effect="non-scaling-stroke">4100<tspan dx="1.55">.</tspan><tspan dx="1.55">00</tspan></text>
<text transform="translate(2052.76 461.90) scale(0.9950 1)" font-size="28.6" fill="#131722" stroke="#131722" stroke-width="0.41" vector-effect="non-scaling-stroke">4050<tspan dx="1.55">.</tspan><tspan dx="1.55">00</tspan></text>
<text transform="translate(2052.76 539.90) scale(0.9950 1)" font-size="28.6" fill="#131722" stroke="#131722" stroke-width="0.41" vector-effect="non-scaling-stroke">4000<tspan dx="1.55">.</tspan><tspan dx="1.55">00</tspan></text>
<text transform="translate(2053.11 619.20) scale(0.9937 1)" font-size="28.6" fill="#131722" stroke="#131722" stroke-width="0.41" vector-effect="non-scaling-stroke">80<tspan dx="1.55">.</tspan><tspan dx="1.55">00</tspan></text>
<text transform="translate(2052.75 717.40) scale(0.9985 1)" font-size="28.6" fill="#131722" stroke="#131722" stroke-width="0.40" vector-effect="non-scaling-stroke">40<tspan dx="1.55">.</tspan><tspan dx="1.55">00</tspan></text>
<path d="M2033 89H2169Q2173 89 2173 93V129Q2173 133 2169 133H2033Z" fill="#f23645"/>
<path d="M2033 300H2169Q2173 300 2173 304V340Q2173 344 2169 344H2033Z" fill="#2196f3"/>
<path d="M2033 622H2137Q2141 622 2141 626V661.8Q2141 665.8 2137 665.8H2033Z" fill="#9c56c4"/>
<path d="M2033 740.2H2121.6Q2126.1 740.2 2126.1 744.7V779.2Q2126.1 783.7 2121.6 783.7H2033Z" fill="#ff6d00" clip-path="url(#lclip)"/>
<path d="M2033 783.7H2121.6Q2126.1 783.7 2126.1 788.2V822.1Q2126.1 826.6 2121.6 826.6H2033Z" fill="#ace5dc"/>
<text transform="translate(2052.75 121.00) scale(0.9993 1)" font-size="28.6" fill="#ffffff" stroke="#ffffff" stroke-width="0.40" vector-effect="non-scaling-stroke">4267<tspan dx="1.55">.</tspan><tspan dx="1.55">67</tspan></text>
<text transform="translate(2052.75 332.00) scale(0.9974 1)" font-size="28.6" fill="#ffffff" stroke="#ffffff" stroke-width="0.40" vector-effect="non-scaling-stroke">4132<tspan dx="1.55">.</tspan><tspan dx="1.55">39</tspan></text>
<text transform="translate(2052.16 654.60) scale(1.0018 1)" font-size="28.6" fill="#ffffff" stroke="#ffffff" stroke-width="0.40" vector-effect="non-scaling-stroke">65<tspan dx="1.55">.</tspan><tspan dx="1.55">59</tspan></text>
<text transform="translate(2052.05 772.60) scale(1.0077 1)" font-size="28.6" fill="#ffffff" stroke="#ffffff" stroke-width="0.40" vector-effect="non-scaling-stroke">9<tspan dx="1.55">.</tspan><tspan dx="1.55">82</tspan></text>
<text transform="translate(2052.43 815.70) scale(0.9455 1)" font-size="28.6" fill="#000000" stroke="#000000" stroke-width="0.48" vector-effect="non-scaling-stroke">6<tspan dx="1.55">.</tspan><tspan dx="1.55">91</tspan></text>
<text transform="translate(181.97 900.40) scale(0.9960 1)" font-size="28.6" fill="#131722" stroke="#131722" stroke-width="0.41" vector-effect="non-scaling-stroke">12</text>
<text transform="translate(397.47 900.40) scale(0.9960 1)" font-size="28.6" fill="#131722" stroke="#131722" stroke-width="0.41" vector-effect="non-scaling-stroke">16</text>
<text transform="translate(623.09 900.40) scale(1.0501 1)" font-size="28.6" fill="#131722" stroke="#131722" stroke-width="0.40" vector-effect="non-scaling-stroke">20</text>
<text transform="translate(850.61 900.40) scale(1.0405 1)" font-size="28.6" fill="#131722" stroke="#131722" stroke-width="0.40" vector-effect="non-scaling-stroke">25</text>
<text transform="translate(1127.99 900.40) scale(0.9857 1)" font-size="28.6" fill="#131722" stroke="#131722" stroke-width="0.32" vector-effect="non-scaling-stroke" font-weight="700">Dec</text>
<text transform="translate(1361.52 900.40) scale(1.0680 1)" font-size="28.6" fill="#131722" stroke="#131722" stroke-width="0.40" vector-effect="non-scaling-stroke">4</text>
<text transform="translate(1588.33 900.40) scale(1.0629 1)" font-size="28.6" fill="#131722" stroke="#131722" stroke-width="0.40" vector-effect="non-scaling-stroke">9</text>
<text transform="translate(1796.40 900.40) scale(1.0081 1)" font-size="28.6" fill="#131722" stroke="#131722" stroke-width="0.40" vector-effect="non-scaling-stroke">12</text>
<g clip-path="url(#tclip)"><text transform="translate(2012.43 900.40) scale(0.9908 1)" font-size="28.6" fill="#131722" stroke="#131722" stroke-width="0.41" vector-effect="non-scaling-stroke">15</text></g>
<text transform="translate(82.40 980.30) scale(0.9740 1)" font-size="32.8" fill="#131722" stroke="#131722" stroke-width="0.84" vector-effect="non-scaling-stroke">TradingView</text>
<g fill="#131722"><path d="M25.1 955.3H44.6V979.7H34.6V965H25.1Z"/><circle cx="52.7" cy="960.5" r="5.45"/><path d="M62.9 955.3H73.9L64.3 979.7H53.1Z"/></g>
</svg>
</body></html>
